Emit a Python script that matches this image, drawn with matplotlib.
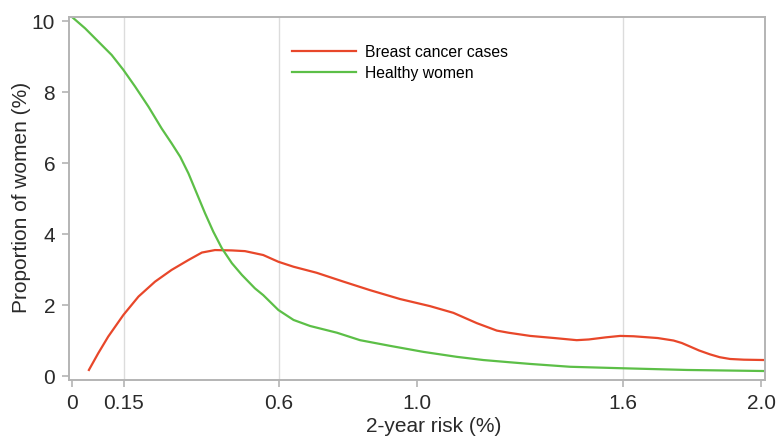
import matplotlib
matplotlib.use('Agg')
import matplotlib.pyplot as plt

plt.rcParams['font.family'] = ['Liberation Sans', 'DejaVu Sans']

# values (x = 2-year risk %, y = proportion of women %)
cases_x = [0.049, 0.076, 0.105, 0.149, 0.193, 0.241, 0.289, 0.338, 0.377, 0.415,
           0.464, 0.502, 0.531, 0.555, 0.599, 0.643, 0.71, 0.788, 0.865, 0.952,
           1.039, 1.107, 1.175, 1.233, 1.267, 1.33, 1.40, 1.465, 1.50, 1.55,
           1.591, 1.63, 1.70, 1.746, 1.77, 1.794, 1.82, 1.852, 1.88, 1.91,
           1.95, 2.011]
cases_y = [0.17, 0.64, 1.11, 1.72, 2.24, 2.66, 2.99, 3.27, 3.48, 3.55,
           3.54, 3.52, 3.46, 3.41, 3.22, 3.08, 2.91, 2.66, 2.42, 2.17,
           1.97, 1.78, 1.49, 1.28, 1.22, 1.13, 1.07, 1.01, 1.03, 1.09,
           1.13, 1.12, 1.07, 1.00, 0.93, 0.83, 0.72, 0.61, 0.53, 0.48,
           0.46, 0.45]

healthy_x = [0.0, 0.038, 0.076, 0.115, 0.149, 0.183, 0.222, 0.26, 0.289, 0.314,
             0.338, 0.362, 0.386, 0.41, 0.435, 0.464, 0.493, 0.531, 0.555, 0.599,
             0.643, 0.691, 0.769, 0.836, 0.923, 1.02, 1.117, 1.194, 1.267, 1.33,
             1.446, 1.591, 1.785, 2.011]
healthy_y = [10.12, 9.80, 9.43, 9.05, 8.63, 8.16, 7.59, 6.98, 6.56, 6.18,
             5.71, 5.15, 4.59, 4.07, 3.60, 3.18, 2.85, 2.47, 2.28, 1.86,
             1.58, 1.41, 1.22, 1.01, 0.85, 0.68, 0.54, 0.45, 0.39, 0.34,
             0.26, 0.22, 0.17, 0.14]

x_ticks = [0, 0.15, 0.6, 1.0, 1.6, 2.0]
x_tick_labels = ['0', '0.15', '0.6', '1.0', '1.6', '2.0']
y_ticks = [0, 2, 4, 6, 8, 10]
grid_x = [0.15, 0.6, 1.6]

RED = '#e8472a'
GREEN = '#5cbf47'
FRAME = '#b4b4b4'
TEXT = '#2a2a2a'

fig = plt.figure(figsize=(7.8, 4.38), dpi=100)
ax = fig.add_axes([0.0885, 0.1324, 0.8923, 0.8288])

for gx in grid_x:
    ax.axvline(gx, color='#dcdcdc', linewidth=1.0, zorder=0)

ax.plot(cases_x, cases_y, color=RED, linewidth=1.6, label='Breast cancer cases',
        solid_joinstyle='round')
ax.plot(healthy_x, healthy_y, color=GREEN, linewidth=1.6, label='Healthy women',
        solid_joinstyle='round')

ax.set_xlim(-0.0087, 2.0116)
ax.set_ylim(-0.113, 10.12)
ax.set_xticks(x_ticks)
ax.set_xticklabels(x_tick_labels)
ax.set_yticks(y_ticks)

for s in ax.spines.values():
    s.set_color(FRAME)
    s.set_linewidth(1.4)

ax.tick_params(axis='both', colors=FRAME, labelcolor=TEXT, labelsize=15,
               length=5, width=1.2, pad=5)

ax.set_xlabel('2-year risk (%)', fontsize=15, color=TEXT)
ax.set_ylabel('Proportion of women (%)', fontsize=15, color=TEXT)
ax.xaxis.set_label_coords(0.524, -0.103)
ax.yaxis.set_label_coords(-0.054, 0.503)

ax.legend(loc='upper left', bbox_to_anchor=(0.3204, 0.924), frameon=False,
          fontsize=11.3, handlelength=4.1, handletextpad=0.55, labelspacing=0.38,
          borderpad=0, borderaxespad=0)

fig.savefig('out.png', dpi=100)
